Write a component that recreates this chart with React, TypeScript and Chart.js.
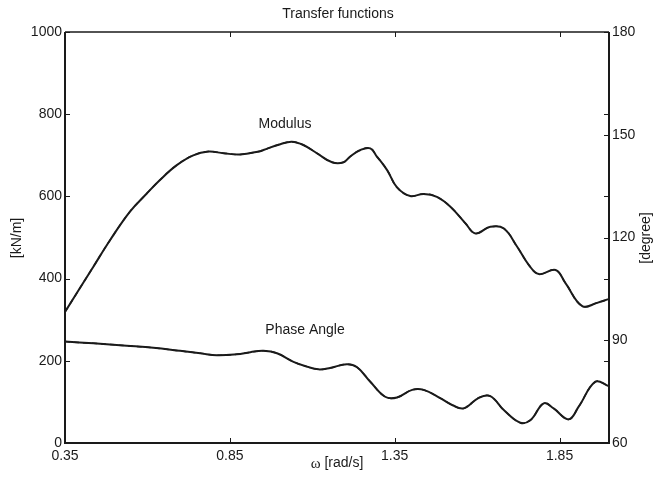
import React, { useEffect, useRef } from "react";
import { Chart, registerables } from "chart.js";

Chart.register(...registerables);

// Frequency ω [rad/s] and modulus [kN/m]
const modulusOmega = [
  0.35, 0.436, 0.487, 0.547, 0.598, 0.638, 0.689, 0.739, 0.785, 0.831, 0.881,
  0.942, 0.952, 1.003, 1.038, 1.073, 1.114, 1.16, 1.195, 1.215, 1.246, 1.276,
  1.296, 1.327, 1.357, 1.397, 1.438, 1.478, 1.519, 1.564, 1.595, 1.64, 1.681,
  1.721, 1.757, 1.787, 1.838, 1.868, 1.919, 1.964, 1.999,
];
const modulusValues = [
  319, 429, 494, 563, 607, 640, 676, 700, 709, 705, 702,
  710, 713, 727, 733, 725, 705, 683, 683, 697, 713, 717,
  697, 664, 622, 601, 606, 599, 575, 535, 510, 526, 522,
  478, 433, 411, 421, 389, 333, 341, 350,
];

// Frequency ω [rad/s] and phase angle [degree]
const phaseOmega = [
  0.35, 0.436, 0.537, 0.618, 0.699, 0.76, 0.811, 0.871, 0.912, 0.952, 0.993,
  1.043, 1.084, 1.119, 1.154, 1.205, 1.236, 1.276, 1.321, 1.357, 1.403, 1.438,
  1.488, 1.524, 1.559, 1.605, 1.64, 1.681, 1.731, 1.762, 1.802, 1.832, 1.878,
  1.908, 1.959, 1.999,
];
const phaseValues = [
  89.6, 89.1, 88.4, 87.8, 86.9, 86.2, 85.6, 85.9, 86.5, 86.9, 86.2,
  83.7, 82.3, 81.5, 81.9, 83.0, 82.1, 77.9, 73.5, 73.3, 75.5, 75.5,
  73.1, 71.1, 70.1, 73.2, 73.7, 69.6, 65.9, 66.7, 71.6, 70.1, 66.9,
  70.6, 77.9, 76.6,
];

const xTicks = [0.35, 0.85, 1.35, 1.85];
const leftTicks = [0, 200, 400, 600, 800, 1000];
const rightTicks = [60, 90, 120, 150, 180];

const FONT = "Liberation Sans, Arial, Helvetica, sans-serif";
const INK = "#1a1a1a";

const toPoints = (xs: number[], ys: number[]) => xs.map((x, i) => ({ x, y: ys[i] }));

// Box, inward ticks and free text labels
const decorPlugin = {
  id: "decor",
  afterDraw(chart: any) {
    const { ctx, chartArea: a, scales } = chart;
    const sx = scales.x, sy = scales.y, sy2 = scales.y2;
    const tl = 5;
    ctx.save();
    ctx.strokeStyle = INK;
    ctx.lineWidth = 1;
    ctx.beginPath();
    for (const v of xTicks) {
      const px = Math.round(sx.getPixelForValue(v)) + 0.5;
      ctx.moveTo(px, a.bottom);
      ctx.lineTo(px, a.bottom - tl);
      ctx.moveTo(px, a.top);
      ctx.lineTo(px, a.top + tl);
    }
    for (const v of leftTicks) {
      const py = Math.round(sy.getPixelForValue(v)) + 0.5;
      ctx.moveTo(a.left, py);
      ctx.lineTo(a.left + tl, py);
      ctx.moveTo(a.right, py);
      ctx.lineTo(a.right - tl, py);
    }
    for (const v of rightTicks) {
      const py = Math.round(sy2.getPixelForValue(v)) + 0.5;
      ctx.moveTo(a.right, py);
      ctx.lineTo(a.right - tl, py);
    }
    ctx.stroke();

    // axes box
    ctx.lineWidth = 1.6;
    ctx.beginPath();
    ctx.moveTo(a.left, a.top);
    ctx.lineTo(a.right, a.top);
    ctx.stroke();
    ctx.lineWidth = 2;
    ctx.beginPath();
    ctx.moveTo(a.left, a.top);
    ctx.lineTo(a.left, a.bottom);
    ctx.lineTo(a.right, a.bottom);
    ctx.lineTo(a.right, a.top);
    ctx.stroke();

    ctx.fillStyle = INK;
    ctx.textAlign = "center";
    ctx.textBaseline = "middle";
    ctx.font = `14px ${FONT}`;
    ctx.fillText("Transfer functions", 338, 14);
    ctx.fillText("Modulus", 285, 124);
    ctx.fillText("Phase Angle", 305, 330);

    // x-axis title with a serif omega
    const omega = "ω";
    const rest = " [rad/s]";
    ctx.font = `15px "Liberation Serif", serif`;
    const wO = ctx.measureText(omega).width;
    ctx.font = `14px ${FONT}`;
    const wR = ctx.measureText(rest).width;
    const start = 337 - (wO + wR) / 2;
    ctx.textAlign = "left";
    ctx.font = `15px "Liberation Serif", serif`;
    ctx.fillText(omega, start, 464);
    ctx.font = `14px ${FONT}`;
    ctx.fillText(rest, start + wO, 463);

    ctx.textAlign = "center";
    ctx.save();
    ctx.translate(17, 238);
    ctx.rotate(-Math.PI / 2);
    ctx.fillText("[kN/m]", 0, 0);
    ctx.restore();
    ctx.save();
    ctx.translate(646, 238);
    ctx.rotate(-Math.PI / 2);
    ctx.fillText("[degree]", 0, 0);
    ctx.restore();
    ctx.restore();
  },
};

export default function App() {
  const canvasRef = useRef<HTMLCanvasElement | null>(null);

  useEffect(() => {
    const canvas = canvasRef.current;
    if (!canvas) return;
    const lineStyle = {
      borderColor: INK,
      borderWidth: 2,
      pointRadius: 0,
      fill: false,
      tension: 0.4,
    };
    const tickFont = { family: FONT, size: 14 };
    const chart = new Chart(canvas, {
      type: "line",
      data: {
        datasets: [
          { ...lineStyle, label: "Modulus", data: toPoints(modulusOmega, modulusValues), yAxisID: "y" },
          { ...lineStyle, label: "Modulus fit", data: toPoints(modulusOmega, modulusValues), yAxisID: "y", borderDash: [5, 4], borderWidth: 1.5 },
          { ...lineStyle, label: "Phase Angle", data: toPoints(phaseOmega, phaseValues), yAxisID: "y2" },
          { ...lineStyle, label: "Phase Angle fit", data: toPoints(phaseOmega, phaseValues), yAxisID: "y2", borderDash: [5, 4], borderWidth: 1.5 },
        ],
      },
      options: {
        responsive: false,
        animation: false,
        events: [],
        layout: { padding: { top: 32, left: 0, right: 0, bottom: 0 } },
        plugins: { legend: { display: false }, tooltip: { enabled: false }, title: { display: false } },
        scales: {
          x: {
            type: "linear",
            min: 0.35,
            max: 2.0,
            afterBuildTicks: (s: any) => { s.ticks = xTicks.map((v) => ({ value: v })); },
            afterFit: (s: any) => { s.height = 37; },
            grid: { display: false, drawTicks: false },
            border: { display: false },
            ticks: {
              color: INK,
              font: tickFont,
              padding: 5,
              maxRotation: 0,
              callback: (v: any) => Number(v).toFixed(2),
            },
          },
          y: {
            type: "linear",
            position: "left",
            min: 0,
            max: 1000,
            afterBuildTicks: (s: any) => { s.ticks = leftTicks.map((v) => ({ value: v })); },
            afterFit: (s: any) => { s.width = 65; },
            grid: { display: false, drawTicks: false },
            border: { display: false },
            ticks: { color: INK, font: tickFont, padding: 3, callback: (v: any) => String(v) },
          },
          y2: {
            type: "linear",
            position: "right",
            min: 60,
            max: 180,
            afterBuildTicks: (s: any) => { s.ticks = rightTicks.map((v) => ({ value: v })); },
            afterFit: (s: any) => { s.width = 48; },
            grid: { display: false, drawTicks: false },
            border: { display: false },
            ticks: { color: INK, font: tickFont, padding: 3, callback: (v: any) => String(v) },
          },
        },
      },
      plugins: [decorPlugin],
    });
    return () => chart.destroy();
  }, []);

  return (
    <div style={{ position: "fixed", left: 0, top: 0, width: 657, height: 480, background: "#fff" }}>
      <canvas ref={canvasRef} width={657} height={480} />
    </div>
  );
}
